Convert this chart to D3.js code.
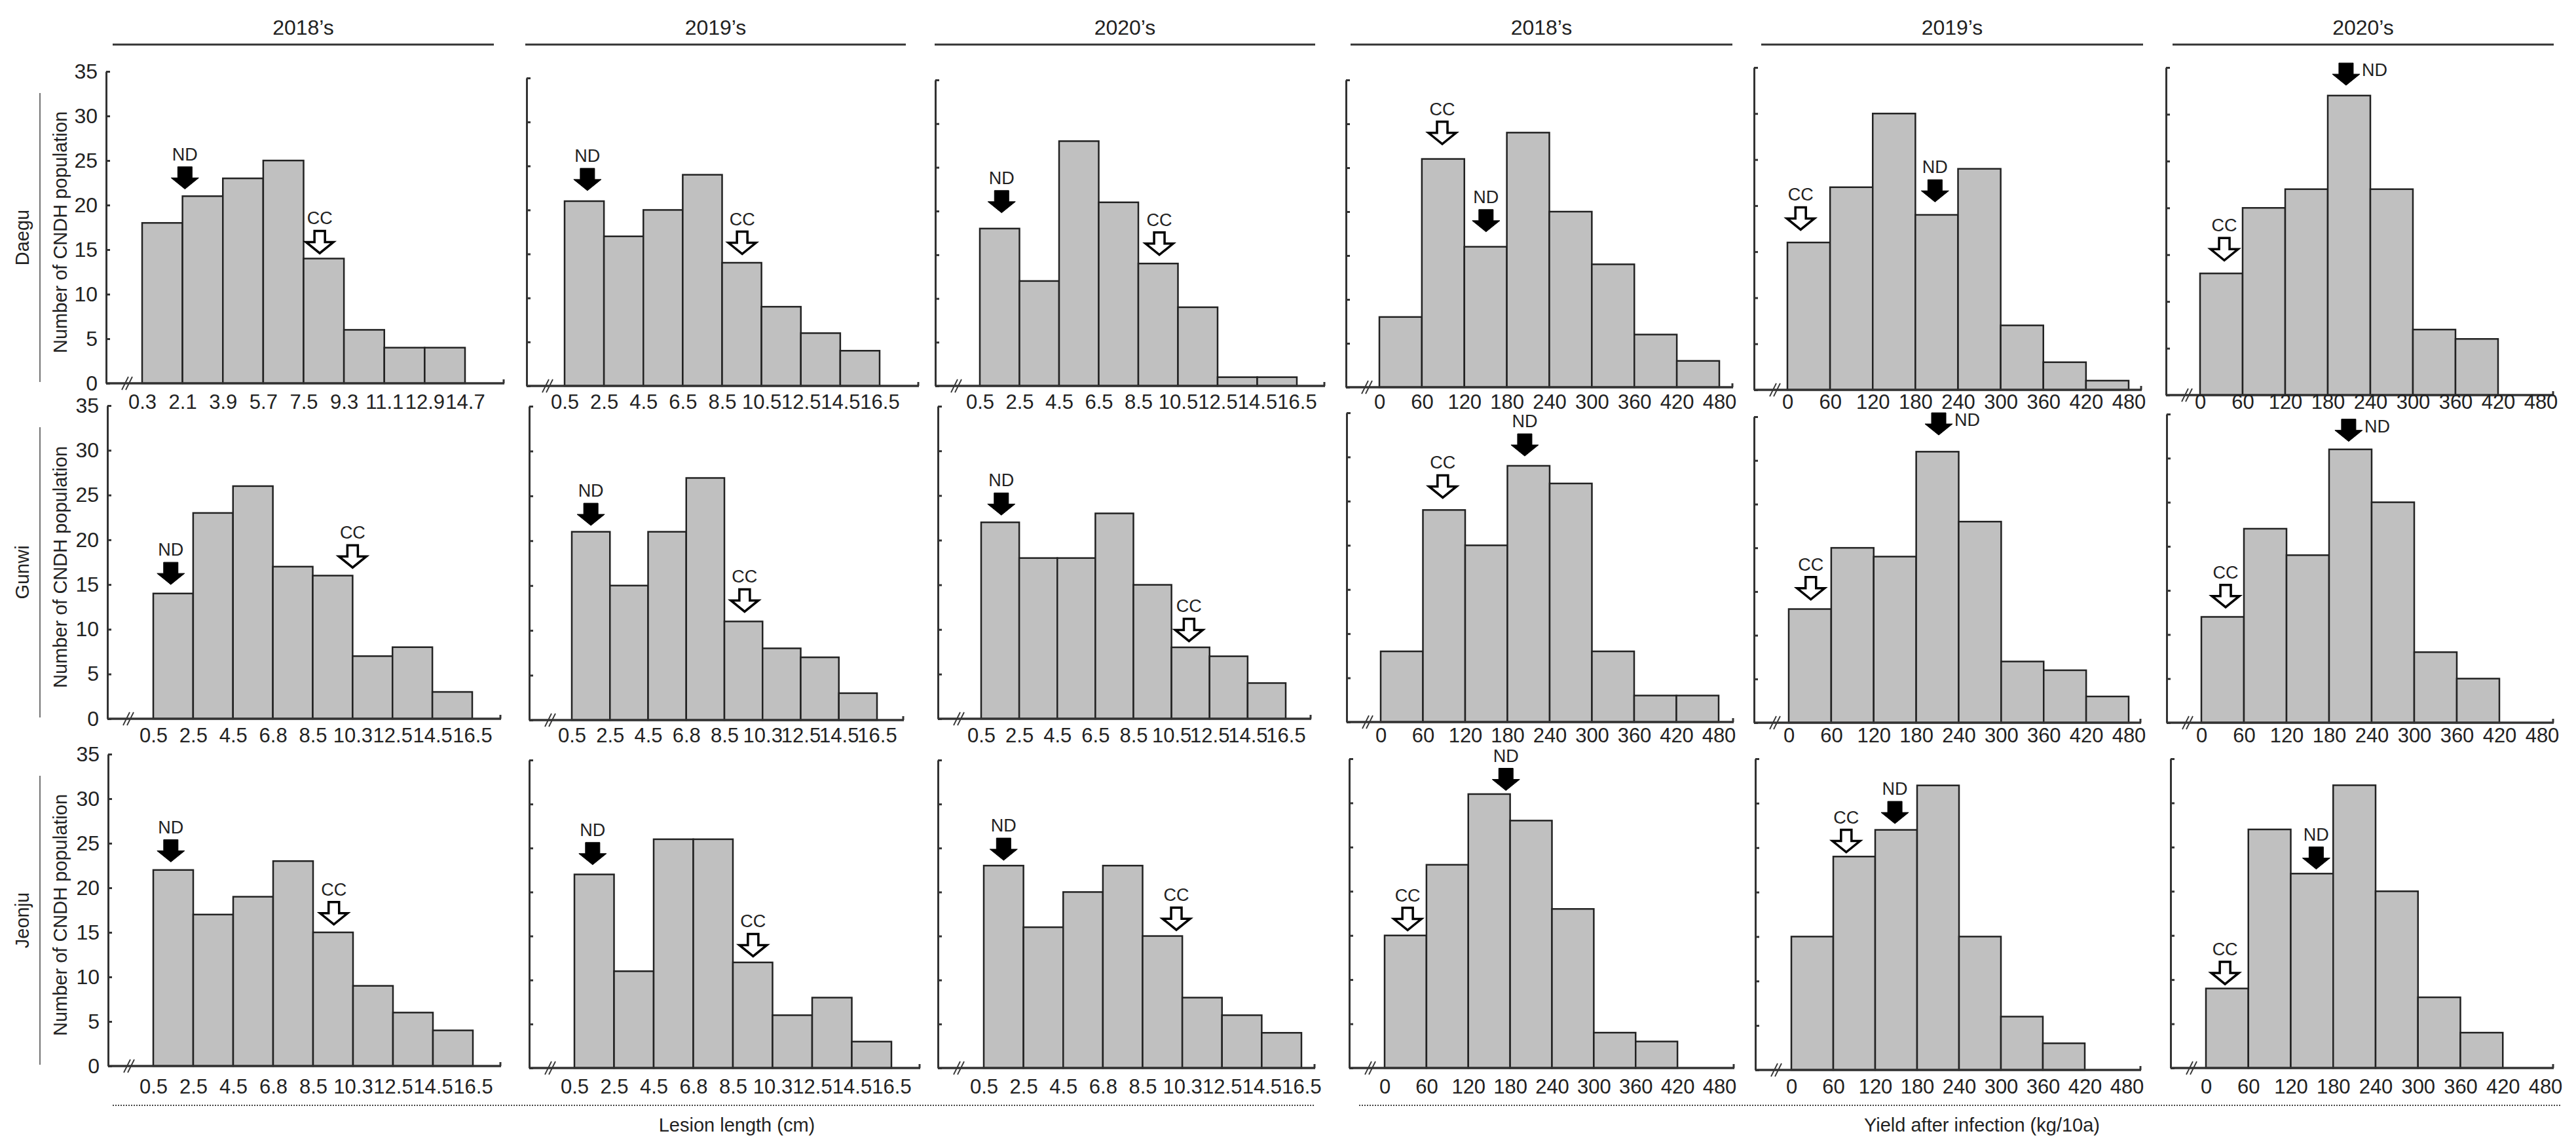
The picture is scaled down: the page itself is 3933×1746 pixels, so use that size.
<!DOCTYPE html>
<html>
<head>
<meta charset="utf-8">
<script src="https://cdn.jsdelivr.net/npm/d3@7"></script>
<style>
  body { margin: 0; background: #fff; }
  text { fill: #222; }
</style>
</head>
<body>
<div id="chart"></div>
<script>
// --- data ---
const regions = ["Daegu", "Gunwi", "Jeonju"];
const years = ["2018\u2019s", "2019\u2019s", "2020\u2019s"];

const edgesLesionA = ["0.3", "2.1", "3.9", "5.7", "7.5", "9.3", "11.1", "12.9", "14.7"];
const edgesLesionB = ["0.5", "2.5", "4.5", "6.5", "8.5", "10.5", "12.5", "14.5", "16.5"];
const edgesLesionC = ["0.5", "2.5", "4.5", "6.8", "8.5", "10.3", "12.5", "14.5", "16.5"];
const edgesYield = ["0", "60", "120", "180", "240", "300", "360", "420", "480"];

// counts per bin, [2018, 2019, 2020]
const lesionDaegu  = [[18, 21, 23, 25, 14, 6, 4, 4], [21, 17, 20, 24, 14, 9, 6, 4], [18, 12, 28, 21, 14, 9, 1, 1]];
const lesionGunwi  = [[14, 23, 26, 17, 16, 7, 8, 3], [21, 15, 21, 27, 11, 8, 7, 3], [22, 18, 18, 23, 15, 8, 7, 4]];
const lesionJeonju = [[22, 17, 19, 23, 15, 9, 6, 4], [22, 11, 26, 26, 12, 6, 8, 3], [23, 16, 20, 23, 15, 8, 6, 4]];
const yieldDaegu   = [[8, 26, 16, 29, 20, 14, 6, 3], [16, 22, 30, 19, 24, 7, 3, 1], [13, 20, 22, 32, 22, 7, 6]];
const yieldGunwi   = [[8, 24, 20, 29, 27, 8, 3, 3], [13, 20, 19, 31, 23, 7, 6, 3], [12, 22, 19, 31, 25, 8, 5]];
const yieldJeonju  = [[15, 23, 31, 28, 18, 4, 3], [15, 24, 27, 32, 15, 6, 3], [9, 27, 22, 32, 20, 8, 4]];

// ND / CC markers: [position in bins, arrow tip value]; rows = region, cols = 6 panels
const ndMarks = [
  [[1.06, 21.8], [0.58, 22.2], [0.55, 19.8], [2.51, 17.7], [3.46, 20.4], [3.43, 33.1]],
  [[0.44, 15.0], [0.50, 21.7], [0.53, 22.8], [3.41, 30.1], [3.53, 32.9], [3.46, 31.9]],
  [[0.44, 22.9], [0.46, 23.1], [0.50, 23.6], [2.90, 31.4], [2.47, 27.7], [2.60, 22.5]]
];
const ccMarks = [
  [[4.40, 14.6], [4.51, 15.0], [4.53, 15.0], [1.48, 27.7], [0.31, 17.4], [0.57, 14.4]],
  [[5.00, 16.9], [4.53, 12.1], [5.46, 8.7], [1.47, 25.4], [0.52, 14.1], [0.57, 13.1]],
  [[4.52, 15.9], [4.51, 12.7], [4.85, 15.7], [0.55, 15.6], [1.31, 24.5], [0.45, 9.5]]
];
const ndLabelRight = [[0, 0, 0, 0, 0, 1], [0, 0, 0, 0, 1, 1], [0, 0, 0, 0, 0, 0]];

// --- layout (the figure is made of pasted panels, each slightly different) ---
// [y axis x, top(35), base(0), first bin edge, 8th bin edge, x axis end]
const frames = [
  [[162, 109, 585, 217, 710, 770], [804, 119, 589, 862, 1343, 1403], [1428, 122, 589, 1496, 1980, 2023],
   [2055, 122, 591, 2106, 2625, 2646], [2678, 103, 595, 2729, 3250, 3270], [3307, 103, 603, 3359, 3879, 3899]],
  [[164, 619, 1097, 234, 721, 765], [808, 620, 1099, 873, 1339, 1380], [1432, 620, 1097, 1498, 1963, 2002],
   [2056, 630, 1102, 2108, 2624, 2647], [2678, 636, 1103, 2731, 3250, 3269], [3308, 632, 1103, 3361, 3881, 3899]],
  [[165, 1151, 1627, 234, 722, 765], [808, 1160, 1630, 877, 1361, 1405], [1432, 1160, 1630, 1502, 1987, 2008],
   [2060, 1158, 1630, 2114, 2625, 2648], [2680, 1158, 1633, 2735, 3247, 3269], [3314, 1158, 1630, 3368, 3886, 3899]]
];
const labelRowY = [613, 1122, 1658];   // centre line of the bin edge labels per row
const headerLines = [[172, 754], [802, 1383], [1427, 2008], [2062, 2645], [2689, 3272], [3317, 3899]];

const narrow = "'Liberation Sans Narrow', 'Liberation Sans', Arial, sans-serif";
const regular = "'Liberation Sans', Arial, sans-serif";

let svg = d3.select("#chart").append("svg")
  .attr("width", 3933)
  .attr("height", 1746)
  .style("background", "#fff");

function panelData(r, c)
{
  let lesion = [lesionDaegu, lesionGunwi, lesionJeonju][r];
  let yld = [yieldDaegu, yieldGunwi, yieldJeonju][r];
  if(c < 3) return lesion[c];
  return yld[c - 3];
}

function panelEdges(r, c)
{
  if(c >= 3) return edgesYield;
  if(r == 0 && c == 0) return edgesLesionA;
  if((r == 0 && c >= 1) || (r == 1 && c == 2)) return edgesLesionB;
  return edgesLesionC;
}

function downArrow(g, cx, tipY, filled)
{
  let shaftW = filled ? 22 : 16;
  let headW = 42, headH = 17, shaftH = 17;
  let pts = [
    [cx - shaftW / 2, tipY - headH - shaftH],
    [cx + shaftW / 2, tipY - headH - shaftH],
    [cx + shaftW / 2, tipY - headH],
    [cx + headW / 2, tipY - headH],
    [cx, tipY],
    [cx - headW / 2, tipY - headH],
    [cx - shaftW / 2, tipY - headH]
  ];
  g.append("path")
    .attr("d", d3.line()(pts) + "Z")
    .attr("fill", filled ? "#000" : "#fff")
    .attr("stroke", "#000")
    .attr("stroke-width", filled ? 1 : 3.5)
    .attr("stroke-linejoin", "miter");
}

function drawPanel(r, c)
{
  let f = frames[r][c];
  let data = panelData(r, c);
  let edges = panelEdges(r, c);
  let g = svg.append("g");

  let X = d3.scaleLinear().domain([0, 8]).range([f[3], f[4]]);
  let Y = d3.scaleLinear().domain([0, 35]).range([f[2], f[1]]);

  // bars
  g.selectAll("rect")
    .data(data)
    .join("rect")
    .attr("x", (d, i) => X(i))
    .attr("y", d => Y(d))
    .attr("width", (d, i) => X(i + 1) - X(i))
    .attr("height", d => Y(0) - Y(d))
    .attr("fill", "#c0c0c0")
    .attr("stroke", "#222")
    .attr("stroke-width", 2.5);

  // y axis, ticks pointing inwards, labels only on the first column
  let yAxis = d3.axisLeft(Y)
    .tickValues(d3.range(0, 36, 5))
    .tickSizeInner(-6)
    .tickSizeOuter(0)
    .tickPadding(13)
    .tickFormat(c == 0 ? d3.format("d") : "");
  let ya = g.append("g")
    .attr("transform", "translate(" + f[0] + ",0)")
    .call(yAxis);
  ya.select(".domain").attr("stroke", "#333").attr("stroke-width", 3);
  ya.selectAll(".tick line").attr("stroke", "#333").attr("stroke-width", 3);
  ya.selectAll(".tick text")
    .attr("font-family", narrow)
    .attr("font-size", 32)
    .attr("fill", "#333");

  // x axis line
  g.append("line")
    .attr("x1", f[0]).attr("x2", f[5])
    .attr("y1", f[2]).attr("y2", f[2])
    .attr("stroke", "#333")
    .attr("stroke-width", 3.5);
  g.append("line")
    .attr("x1", f[5] - 1).attr("x2", f[5] - 1)
    .attr("y1", f[2]).attr("y2", f[2] - 6)
    .attr("stroke", "#333")
    .attr("stroke-width", 3);

  // bin edge labels, all rows share one label line
  let xAxis = d3.axisBottom(X)
    .tickValues(d3.range(edges.length))
    .tickFormat(i => edges[i])
    .tickSize(0)
    .tickPadding(0);
  let xa = g.append("g")
    .attr("transform", "translate(0," + labelRowY[r] + ")")
    .call(xAxis);
  xa.select(".domain").remove();
  xa.selectAll(".tick text")
    .attr("y", 0)
    .attr("dy", "0.36em")
    .attr("font-family", narrow)
    .attr("font-size", 31)
    .attr("fill", "#333");

  // axis break mark
  let bx = f[0] + 32;
  [-3, 3].forEach(o => {
    g.append("line")
      .attr("x1", bx + o - 5).attr("y1", f[2] + 10)
      .attr("x2", bx + o + 5).attr("y2", f[2] - 10)
      .attr("stroke", "#333")
      .attr("stroke-width", 1.8);
  });

  // ND (filled) and CC (hollow) markers
  let nd = ndMarks[r][c];
  let ndX = X(nd[0]), ndTip = Y(nd[1]);
  downArrow(g, ndX, ndTip, true);
  let ndText = g.append("text")
    .text("ND")
    .attr("font-family", regular)
    .attr("font-size", 27);
  if(ndLabelRight[r][c])
    ndText.attr("x", ndX + 24).attr("y", ndTip - 34 + 20).attr("text-anchor", "start");
  else
    ndText.attr("x", ndX).attr("y", ndTip - 34 - 10).attr("text-anchor", "middle");

  let cc = ccMarks[r][c];
  let ccX = X(cc[0]), ccTip = Y(cc[1]);
  downArrow(g, ccX, ccTip, false);
  g.append("text")
    .text("CC")
    .attr("x", ccX)
    .attr("y", ccTip - 34 - 10)
    .attr("text-anchor", "middle")
    .attr("font-family", regular)
    .attr("font-size", 27);
}

// column headers
headerLines.forEach((h, i) => {
  svg.append("line")
    .attr("x1", h[0]).attr("x2", h[1])
    .attr("y1", 68).attr("y2", 68)
    .attr("stroke", "#333")
    .attr("stroke-width", 3);
  svg.append("text")
    .text(years[i % 3])
    .attr("x", (h[0] + h[1]) / 2)
    .attr("y", 53)
    .attr("text-anchor", "middle")
    .attr("font-family", narrow)
    .attr("font-size", 32);
});

// panels
for(let r = 0; r < 3; r++)
  for(let c = 0; c < 6; c++)
    drawPanel(r, c);

// row labels on the left
regions.forEach((name, r) => {
  let f = frames[r][0];
  let top = f[1] + 33, bottom = f[2] - 2;
  let mid = (top + bottom) / 2;
  svg.append("line")
    .attr("x1", 61).attr("x2", 61)
    .attr("y1", top).attr("y2", bottom)
    .attr("stroke", "#444")
    .attr("stroke-width", 1.5);
  svg.append("text")
    .text(name)
    .attr("transform", "translate(44," + mid + ") rotate(-90)")
    .attr("text-anchor", "middle")
    .attr("font-family", regular)
    .attr("font-size", 29);
  svg.append("text")
    .text("Number of CNDH population")
    .attr("transform", "translate(102," + (mid - 8) + ") rotate(-90)")
    .attr("text-anchor", "middle")
    .attr("font-family", regular)
    .attr("font-size", 29);
});

// bottom axis titles with dotted rules
[[172, 2006, "Lesion length (cm)", 1125], [2075, 3910, "Yield after infection (kg/10a)", 3026]].forEach(b => {
  svg.append("line")
    .attr("x1", b[0]).attr("x2", b[1])
    .attr("y1", 1687).attr("y2", 1687)
    .attr("stroke", "#444")
    .attr("stroke-width", 2)
    .attr("stroke-dasharray", "2,2");
  svg.append("text")
    .text(b[2])
    .attr("x", b[3])
    .attr("y", 1727)
    .attr("text-anchor", "middle")
    .attr("font-family", regular)
    .attr("font-size", 29);
});
</script>
</body>
</html>
